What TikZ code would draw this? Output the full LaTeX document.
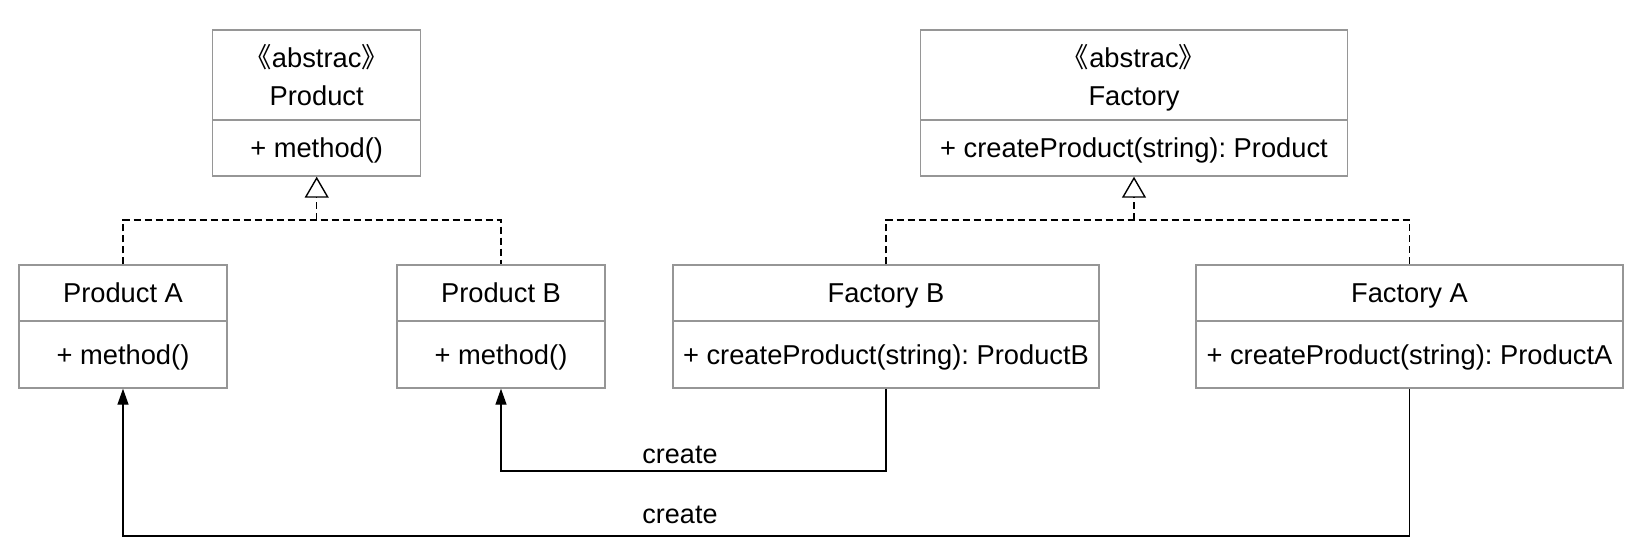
\documentclass[tikz,border=0pt]{standalone}
\usepackage{fontspec}
\setmainfont{Liberation Sans}
\newfontfamily\cjk{Noto Sans CJK SC}
\usetikzlibrary{arrows.meta}
\definecolor{boxgray}{RGB}{150,150,150}
\frenchspacing
\begin{document}
\begin{tikzpicture}[x=1pt,y=-1pt,
  cls/.style={draw=boxgray, line width=1.4pt, rectangle, inner sep=0pt, align=center,
    font=\fontsize{27.3}{38}\selectfont},
  oneline/.style={text depth=-3pt},
  twoline/.style={text depth=0pt},
  narrow/.style={minimum width=208pt},
  wide/.style={minimum width=427pt},
  realize/.style={draw=black, line width=1.4pt, dash pattern=on 7pt off 4pt},
  hollowtip/.style={-{Triangle[open, length=21pt, width=24pt, line width=1.4pt, fill=white]}},
  createarr/.style={draw=black, line width=1.4pt, -{Triangle[length=16pt, width=11pt]}},
  lbl/.style={inner sep=0pt, font=\fontsize{27}{32}\selectfont}]
\useasboundingbox (0,0) rectangle (1636,556);

% abstract Product
\node[cls, twoline, narrow, minimum height=90pt] (absP) at (316.7,75) {{\cjk 《}abstrac{\cjk 》}\\Product};
\node[cls, oneline, narrow, minimum height=56pt] (absPm) at (316.7,148) {+ method()};
% abstract Factory
\node[cls, twoline, wide, minimum height=90pt] (absF) at (1134,75) {{\cjk 《}abstrac{\cjk 》}\\Factory};
\node[cls, oneline, wide, minimum height=56pt] (absFm) at (1134,148) {+ createProduct(string): Product};

% Product A / B
\node[cls, oneline, narrow, minimum height=56pt] (pA) at (123,293) {Product A};
\node[cls, oneline, narrow, minimum height=67pt] (pAm) at (123,354.5) {+ method()};
\node[cls, oneline, narrow, minimum height=56pt] (pB) at (501,293) {Product B};
\node[cls, oneline, narrow, minimum height=67pt] (pBm) at (501,354.5) {+ method()};

% Factory B / A
\node[cls, oneline, minimum width=426pt, minimum height=56pt] (fB) at (886,293) {Factory B};
\node[cls, oneline, minimum width=426pt, minimum height=67pt] (fBm) at (886,354.5) {+ createProduct(string): ProductB};
\node[cls, oneline, wide, minimum height=56pt] (fA) at (1409.5,293) {Factory A};
\node[cls, oneline, wide, minimum height=67pt] (fAm) at (1409.5,354.5) {+ createProduct(string): ProductA};

% realization connectors
\coordinate (jP) at (316.7,220);
\coordinate (jF) at (1134,220);
\draw[realize] (pA.north) |- (jP) -| (pB.north);
\draw[realize, hollowtip] (jP) -- (absPm.south);
\draw[realize] (fB.north) |- (jF) -| (fA.north);
\draw[realize, hollowtip] (jF) -- (absFm.south);

% create connectors
\coordinate (cB) at (886,471);
\coordinate (cA) at (1409.5,536);
\draw[createarr] (fBm.south) -- (cB) -| (pBm.south);
\draw[createarr] (fAm.south) -- (cA) -| (pAm.south);
\node[lbl] (l1) at (680,455) {create};
\node[lbl] (l2) at (680,515) {create};
\end{tikzpicture}
\end{document}
